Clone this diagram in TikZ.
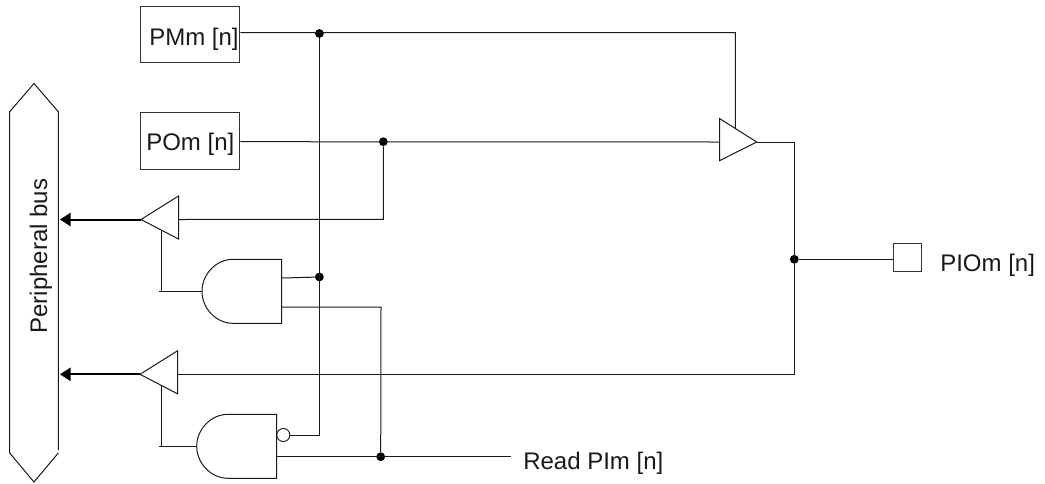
\documentclass[tikz,border=0pt]{standalone}
\usepackage{fontspec}
\setmainfont{Liberation Sans}
\usetikzlibrary{arrows.meta}
\tikzset{
  wire/.style={line width=0.75pt,black!90},
  shape line/.style={line width=0.75pt,black!90},
  regbox/.style={draw=black!80,line width=0.75pt,minimum width=74.5pt,minimum height=42.3pt,inner sep=0pt,font=\fontsize{18}{20}\selectfont,text=black!90},
  lbl/.style={inner sep=0pt,font=\fontsize{18}{20}\selectfont,text=black!90},
  jdot/.style={circle,fill=black,inner sep=0pt,minimum size=6.6pt},
  busarrow/.style={line width=1.5pt,black,-{Triangle[length=8pt,width=10pt]}},
  pad/.style={draw=black!80,line width=0.75pt,minimum size=20.8pt,inner sep=0pt},
  bubble/.style={circle,draw=black!90,line width=0.7pt,minimum size=9.8pt,inner sep=0pt}
}
\newcommand{\bufL}[3]{% name, tip x, y
  \coordinate (#1) at (#2,#3);
  \coordinate (#1in) at (#2+37.5,#3);
  \draw[shape line] (#2,#3) -- (#2+37.5,#3-23.5) -- (#2+37.5,#3+19.5) -- cycle;
}
\newcommand{\andgate}[5]{% name, left, straight start, right, bottom
  \draw[shape line] (#4,#5) -- (#3,#5) .. controls (#3-17,#5) and (#2,#5-15) .. (#2,#5-32)
     .. controls (#2,#5-49) and (#3-17,#5-64) .. (#3,#5-64) -- (#4,#5-64) -- cycle;
}
\begin{document}
\begin{tikzpicture}[x=0.75pt,y=-0.75pt]
\useasboundingbox (0,0) rectangle (1045,483);
% bus
\draw[shape line] (9.7,453) -- (9.7,111.7) -- (34,83.5) -- (58.3,111.7) -- (58.3,450);
\draw[shape line] (9.7,453) -- (34,482) -- (58.3,453);
\node[lbl,rotate=90,anchor=base] (busl) at (47,256) {Peripheral bus};
% boxes
\node[regbox,text height=16pt,text depth=0.2pt] (pm) at (190.3,34.5) {\hspace*{5.5pt}PMm [n]};
\node[regbox,text height=15pt,text depth=0.4pt] (po) at (190.3,141) {POm [n]};
% junctions
\node[jdot] (j1) at (319.4,33.5) {};
\node[jdot] (j2) at (383.3,141.7) {};
\node[jdot] (j3) at (319.4,277) {};
\node[jdot] (j4) at (380.7,456.7) {};
\node[jdot] (j5) at (794.3,259.3) {};
% buffers
\draw[shape line] (719.5,118.5) -- (756.7,142) -- (719.5,160.7) -- cycle;
\coordinate (bt) at (719.5,142);
\coordinate (btip) at (756.7,142);
\bufL{b1}{141}{219.5}
\bufL{b2}{140}{374.3}
% gates
\andgate{g1}{202}{233}{281.7}{323.3}
\andgate{g2}{196.7}{228}{276.7}{478.3}
\node[bubble] (inv) at (283.3,435) {};
% pad
\node[pad] (pad) at (907.8,257.2) {};
\node[lbl,anchor=base west] (piol) at (940,271.7) {PIOm [n]};
\node[lbl,anchor=base west] (rd) at (523,469) {Read PIm [n]};
\coordinate (rdend) at (511,456.7);
% wires
\draw[wire] (pm.east |- j1) ++(0,-0.8) -- (735.3,32.7) -- (735.3,128);
\draw[wire] (po.east |- j2) -- (bt);
\draw[wire] (j1) -- (319.4,435) -- (inv.east);
\draw[wire] (j2) -- (383.3,219.3) -- (b1in);
\draw[wire] (btip) -- (794.3,142) -- (794.3,374.3) -- (b2in);
\draw[wire] (j5) -- (pad.west |- j5);
\draw[wire] (281.7,278) -- (j3);
\draw[wire] (281.7,307) -- (381,307) -- (j4);
\draw[wire] (276.7,456.7) -- (rdend);
\draw[wire] (161.7,231) -- (161.7,291) (159,291) -- (202,291);
\draw[wire] (161.7,386) -- (161.7,446) (159,446) -- (196.7,446);
\draw[busarrow] (b1) -- (60,219.5);
\draw[busarrow] (b2) -- (60,374.3);
\end{tikzpicture}
\end{document}
